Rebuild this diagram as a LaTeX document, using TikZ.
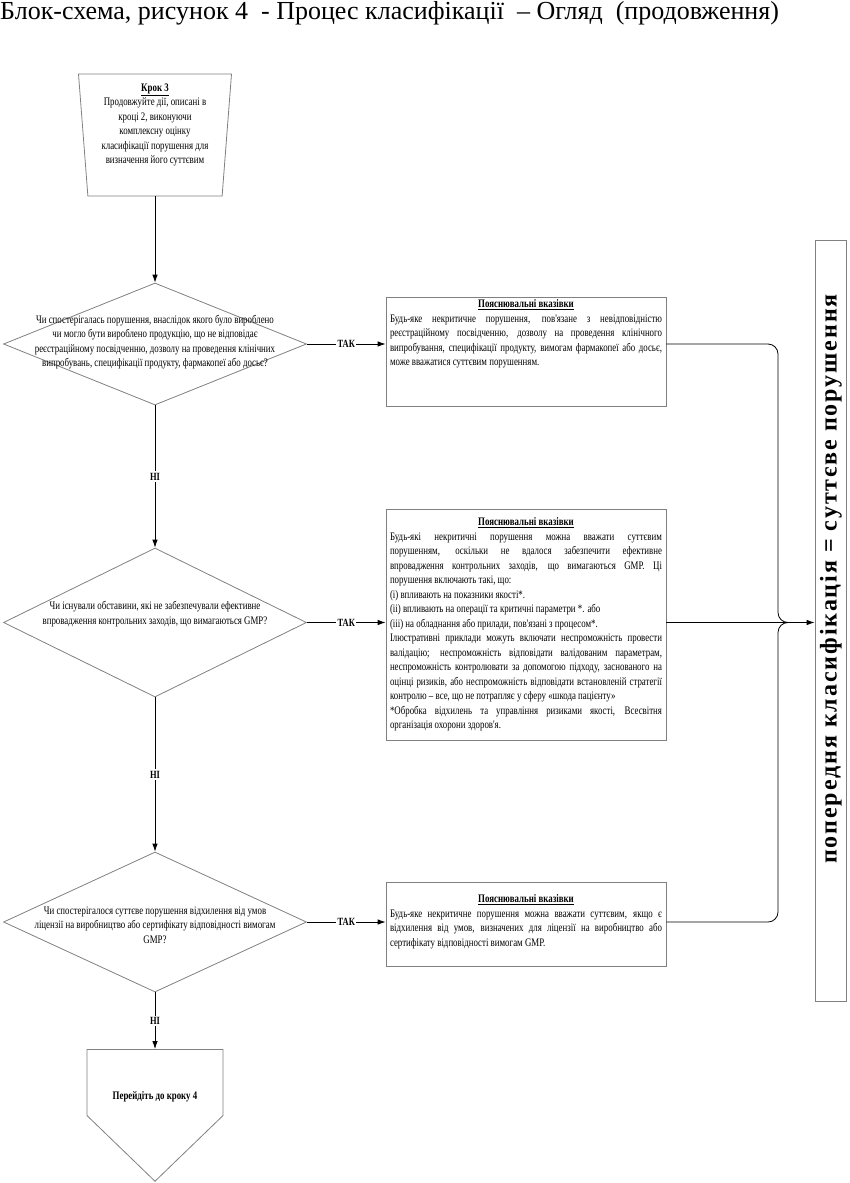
\documentclass[tikz,border=0pt]{standalone}
\usepackage{fontspec}
\setmainfont{Liberation Serif}
\newfontfamily\condfont[FakeStretch=0.77]{Liberation Serif}
\newfontfamily\spacedfont[LetterSpace=8]{Liberation Serif}
\usetikzlibrary{shapes.geometric,shapes.symbols,arrows.meta,positioning}
\definecolor{boxgray}{RGB}{128,128,128}
\tikzset{>={Latex[length=8pt,width=5.5pt]}}
\setlength{\parindent}{0pt}
\begin{document}
\begin{tikzpicture}[x=1pt,y=-1pt,
        smalltext/.style={font=\condfont\fontsize{11.5}{14.5}\selectfont},
        shapeline/.style={draw=boxgray,line width=0.8pt},
        decision/.style={shapeline,diamond,minimum width=303pt,inner sep=0pt},
        expl/.style={shapeline,rectangle,minimum width=280pt,inner sep=0pt},
        expltext/.style={smalltext,text width=272pt,align=justify,inner sep=0pt},
        yesno/.style={font=\condfont\bfseries\fontsize{11}{13}\selectfont,fill=white,inner sep=1.5pt},
        flow/.style={line width=0.8pt}]
        \useasboundingbox (0,0) rectangle (850,1183);
        \node[anchor=north west,inner sep=0pt,font=\fontsize{26}{30}\selectfont] (title) at (0,1) {Блок-схема, рисунок 4 \ - Процес класифікації \ – Огляд \ (продовження)};
        % step 3 and the three questions
        \node[shapeline,trapezium,trapezium left angle=94,trapezium right angle=94,trapezium stretches=true,minimum width=153pt,minimum height=122pt,inner sep=3pt] (s3) at (155,135) {};
        \node[smalltext,align=center] (s3txt) at (155,125) {\underline{\textbf{Крок 3}}\\Продовжуйте дії, описані в\\кроці 2, виконуючи\\комплексну оцінку\\класифікації порушення для\\визначення його суттєвим};
        \node[decision,minimum height=122pt] (d1) at (155,344) {};
        \node[smalltext,align=center] (d1txt) at (155,342) {Чи спостерігалась порушення, внаслідок якого було вироблено\\чи могло бути вироблено продукцію, що не відповідає\\реєстраційному посвідченню, дозволу на проведення клінічних\\випробувань, специфікації продукту, фармакопеї або досьє?};
        \node[decision,minimum height=149pt] (d2) at (155,622.5) {};
        \node[smalltext,align=center] (d2txt) at (155,614) {Чи існували обставини, які не забезпечували ефективне\\впровадження контрольних заходів, що вимагаються GMP?};
        \node[decision,minimum height=140pt] (d3) at (155,922) {};
        \node[smalltext,align=center] (d3txt) at (155,925) {Чи спостерігалося суттєве порушення відхилення від умов\\ліцензії на виробництво або сертифікату відповідності вимогам\\GMP?};
        \node[shapeline,signal,signal to=south,signal pointer angle=92,minimum width=136pt,minimum height=69pt,inner sep=3pt] (s4) at (155,1082.5) {};
        \node[smalltext,font=\condfont\bfseries\fontsize{11.5}{14.5}\selectfont] (s4txt) at (155,1097) {Перейдіть до кроку 4};
        % explanatory notes
        \node[expl,minimum height=109pt] (b1) at (526,351.5) {};
        \node[expltext,below=3pt of b1.north] (b1txt) {\makebox[272pt]{\underline{\textbf{Пояснювальні вказівки}}}\\
            Будь-яке некритичне порушення, пов'язане з невідповідністю\linebreak
            реєстраційному посвідченню, дозволу на проведення клінічного\linebreak
            випробування, специфікації продукту, вимогам фармакопеї або досьє,\linebreak
            може вважатися суттєвим порушенням.};
        \node[expl,minimum height=231pt] (b2) at (526,624.5) {};
        \node[expltext,below=9pt of b2.north] (b2txt) {\makebox[272pt]{\underline{\textbf{Пояснювальні вказівки}}}\\
            Будь-які некритичні порушення можна вважати суттєвим\linebreak
            порушенням, оскільки не вдалося забезпечити ефективне\linebreak
            впровадження контрольних заходів, що вимагаються GMP. Ці\linebreak
            порушення включають такі, що:\\
            (i) впливають на показники якості*.\\
            (ii) впливають на операції та критичні параметри *. або\\
            (iii) на обладнання або прилади, пов'язані з процесом*.\\
            Ілюстративні приклади можуть включати неспроможність провести\linebreak
            валідацію; неспроможність відповідати валідованим параметрам,\linebreak
            неспроможність контролювати за допомогою підходу, заснованого на\linebreak
            оцінці ризиків, або неспроможність відповідати встановленій стратегії\linebreak
            контролю – все, що не потрапляє у сферу «шкода пацієнту»\\{}%
            *Обробка відхилень та управління ризиками якості, Всесвітня\linebreak
            організація охорони здоров'я.};
        \node[expl,minimum height=84pt] (b3) at (526,924) {};
        \node[expltext,below=13pt of b3.north] (b3txt) {\makebox[272pt]{\underline{\textbf{Пояснювальні вказівки}}}\\
            Будь-яке некритичне порушення можна вважати суттєвим, якщо є\linebreak
            відхилення від умов, визначених для ліцензії на виробництво або\linebreak
            сертифікату відповідності вимогам GMP.};
        % result
        \node[shapeline,minimum width=31pt,minimum height=761pt,inner sep=0pt] (cls) at (830.5,620.5) {};
        \node[rotate=90,inner sep=0pt,font=\spacedfont\bfseries\fontsize{24}{28}\selectfont] (clstxt) at (831,579) {попередня класифікація = суттєве порушення};
        \coordinate (merge) at (778,622.5);
        % connectors
        \draw[flow,->] (s3.south) -- (d1.north);
        \draw[flow,->] (d1.south) -- node[yesno]{НІ} (d2.north);
        \draw[flow,->] (d2.south) -- node[yesno]{НІ} (d3.north);
        \draw[flow,->] (d3.south) -- node[yesno]{НІ} (s4.north);
        \draw[flow,->] (d1.east) -- node[yesno]{ТАК} (d1.east -| b1.west);
        \draw[flow,->] (d2.east) -- node[yesno]{ТАК} (d2.east -| b2.west);
        \draw[flow,->] (d3.east) -- node[yesno]{ТАК} (d3.east -| b3.west);
        \draw[flow,rounded corners=10pt] (d1.east -| b1.east) -| (merge) -- ++(12,0);
        \draw[flow,rounded corners=10pt] (d3.east -| b3.east) -| (merge) -- ++(12,0);
        \draw[flow,->] (d2.east -| b2.east) -- (d2.east -| cls.west);
\end{tikzpicture}
\end{document}
